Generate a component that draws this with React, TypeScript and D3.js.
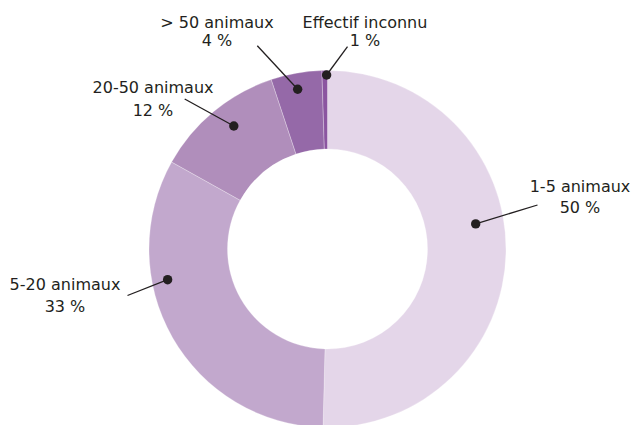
import React from "react";
import * as d3 from "d3";

// ---- data ----
const categories = ["1-5 animaux", "5-20 animaux", "20-50 animaux", "> 50 animaux", "Effectif inconnu"];
const shares = [50.4, 32.7, 11.8, 4.6, 0.5]; // slice sizes as drawn
const percentLabels = ["50 %", "33 %", "12 %", "4 %", "1 %"];

// ---- styling / layout ----
const colors = ["#e4d6e9", "#c2a8cd", "#b08ebb", "#9569a8", "#8b55a0"];
const W = 631;
const H = 425;
const cx = 327.5;
const cy = 249;
const outerR = 178.5;
const innerR = 100;

// callout placement: dot at fraction t of the slice angle, radius r; leader end; label anchor
const callouts = [
  { t: 0.443, r: 150.3, end: [537.5, 205], label: [580, 191.7], gap: 21 },
  { t: 0.66, r: 162.8, end: [127.5, 295.5], label: [65, 290], gap: 21.7 },
  { t: 0.554, r: 154.6, end: [184.7, 99], label: [153, 93], gap: 23 },
  { t: 0.47, r: 162.5, end: [257.3, 45.7], label: [217, 28.3], gap: 17.4 },
  { t: 0.84, r: 174, end: [347.5, 46.7], label: [365, 28.3], gap: 17.4 },
];

export default function App() {
  const pie = d3
    .pie<number>()
    .sort(null)
    .value((d) => d)
    .startAngle(0)
    .endAngle(2 * Math.PI);
  const arcs = pie(shares);
  const arc = d3.arc<d3.PieArcDatum<number>>().innerRadius(innerR).outerRadius(outerR);

  return (
    <svg
      width={W}
      height={H}
      viewBox={`0 0 ${W} ${H}`}
      style={{ position: "absolute", left: 0, top: 0, background: "#fff" }}
      fontFamily="'DejaVu Sans', sans-serif"
    >
      <g transform={`translate(${cx},${cy})`}>
        {arcs.map((a, i) => (
          <path
            key={categories[i]}
            d={arc(a) || ""}
            fill={colors[i]}
            stroke="#ffffff"
            strokeOpacity={0.45}
            strokeWidth={0.6}
          />
        ))}
      </g>
      {arcs.map((a, i) => {
        const c = callouts[i];
        const ang = a.startAngle + c.t * (a.endAngle - a.startAngle);
        const dx = cx + c.r * Math.sin(ang);
        const dy = cy - c.r * Math.cos(ang);
        return (
          <g key={"c" + i}>
            <line x1={dx} y1={dy} x2={c.end[0]} y2={c.end[1]} stroke="#231f20" strokeWidth={1.3} />
            <circle cx={dx} cy={dy} r={4.7} fill="#231f20" />
            <text x={c.label[0]} y={c.label[1]} textAnchor="middle" fontSize={16} fill="#231f20">
              {categories[i]}
            </text>
            <text x={c.label[0]} y={c.label[1] + c.gap} textAnchor="middle" fontSize={16} fill="#231f20">
              {percentLabels[i]}
            </text>
          </g>
        );
      })}
    </svg>
  );
}
